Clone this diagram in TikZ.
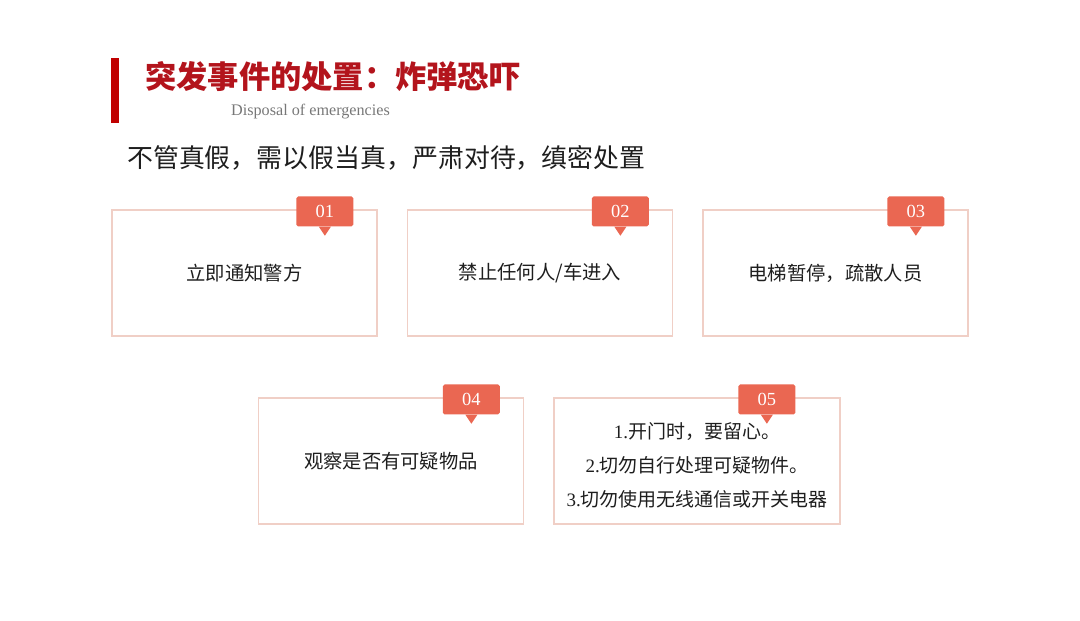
\documentclass[tikz,border=0pt]{standalone}
\usepackage{fontspec}
\setmainfont{Liberation Serif}
\newfontfamily\cjk{Noto Sans CJK SC}
\usetikzlibrary{positioning}
\definecolor{titlered}{HTML}{B3141C}
\definecolor{barred}{HTML}{C00000}
\definecolor{tagred}{HTML}{EA6752}
\definecolor{boxline}{HTML}{F0CFC6}
\definecolor{subgray}{HTML}{777777}
\definecolor{bodytext}{HTML}{1E1E1E}
\tikzset{
  itembox/.style={draw=boxline, line width=1.1pt, minimum width=5.3cm, minimum height=2.52cm,
    inner sep=0pt, font=\cjk\fontsize{11}{13}\selectfont, text=bodytext, align=center},
  tagbox/.style={fill=tagred, rounded corners=1pt, minimum width=1.14cm, minimum height=0.6cm,
    inner sep=0pt, text=white, font=\fontsize{10.5}{12}\selectfont},
}
\begin{document}
\begin{tikzpicture}[x=0.02cm, y=-0.02cm]
    \useasboundingbox (0,0) rectangle (1080,621);
    % --- title ---
    \fill[barred] (111,58) rectangle (119,123);
    \node[anchor=west, text=titlered, font=\cjk\bfseries\fontsize{17.8}{20}\selectfont] (title) at (139,77) {突发事件的处置：炸弹恐吓};
    \node[anchor=west, text=subgray, font=\fontsize{9.2}{10}\selectfont] (subtitle) at (225,112) {Disposal of emergencies};
    \node[anchor=west, text=bodytext, font=\cjk\fontsize{14.75}{17}\selectfont] (motto) at (121,158) {不管真假，需以假当真，严肃对待，缜密处置};

    % --- boxes ---
    \node[itembox] (box1) at (244.5,273) {立即通知警方};
    \node[itembox] (box2) at (540,273) {禁止任何人/车进入};
    \node[itembox] (box3) at (835.5,273) {电梯暂停，疏散人员};
    \node[itembox] (box4) at (391,461) {观察是否有可疑物品};
    \node[itembox, minimum width=5.72cm] (box5) at (697,461) {};
    \node[align=center, text=bodytext, font=\cjk\fontsize{10.8}{19.3}\selectfont] (box5text) at (697,465)
        {\rmfamily 1.\cjk 开门时，要留心。\\
         \rmfamily 2.\cjk 切勿自行处理可疑物件。\\
         \rmfamily 3.\cjk 切勿使用无线通信或开关电器};

    % --- number tags ---
    \foreach \i in {1,...,5} {
        \node[tagbox, anchor=north west] (tag\i) at ([xshift=3.7cm, yshift=0.26cm]box\i.north west) {0\i};
        \fill[tagred] ([xshift=-0.12cm]tag\i.south) -- ([yshift=-0.18cm]tag\i.south) -- ([xshift=0.12cm]tag\i.south) -- cycle;
    }
\end{tikzpicture}
\end{document}
